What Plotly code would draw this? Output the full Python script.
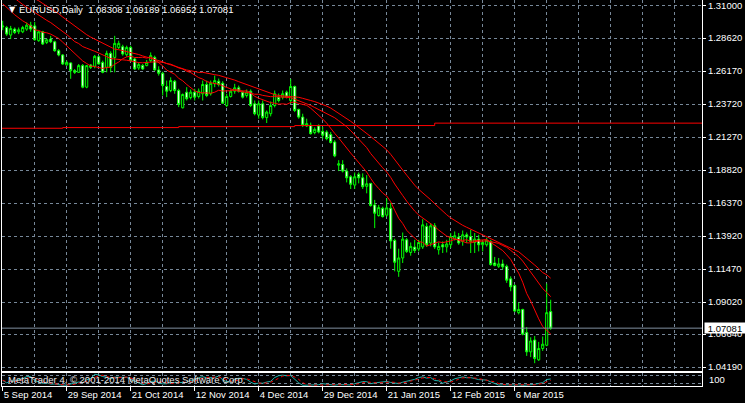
import plotly.graph_objects as go

# ------------------------------------------------------------------ data
# closes of the 29 daily bars before the first visible bar (needed by the moving averages)
prior_closes = [1.3440, 1.3410, 1.3400, 1.3390, 1.3425, 1.3410, 1.3380, 1.3375, 1.3360, 1.3415,
                1.3380, 1.3370, 1.3365, 1.3365, 1.3400, 1.3365, 1.3320, 1.3260, 1.3280, 1.3240,
                1.3195, 1.3170, 1.3180, 1.3185, 1.3130, 1.3130, 1.3130, 1.3150, 1.2944]

opens = [1.2945, 1.2940, 1.2884, 1.2928, 1.2908, 1.2908, 1.2928, 1.2957, 1.2952, 1.2842,
         1.2908, 1.2829, 1.2854, 1.2834, 1.2768, 1.2736, 1.2662, 1.2677, 1.2620, 1.2607,
         1.2657, 1.2497, 1.2662, 1.2652, 1.2723, 1.2681, 1.2644, 1.2748, 1.2718, 1.2792,
         1.2797, 1.2738, 1.2792, 1.2706, 1.2640, 1.2657, 1.2657, 1.2694, 1.2718, 1.2625,
         1.2600, 1.2502, 1.2472, 1.2541, 1.2472, 1.2344, 1.2460, 1.2420, 1.2460, 1.2428,
         1.2448, 1.2517, 1.2448, 1.2522, 1.2541, 1.2526, 1.2361, 1.2428, 1.2467, 1.2492,
         1.2460, 1.2435, 1.2467, 1.2374, 1.2290, 1.2374, 1.2271, 1.2300, 1.2361, 1.2423,
         1.2423, 1.2460, 1.2398, 1.2502, 1.2332, 1.2275, 1.2209, 1.2214, 1.2160, 1.2209,
         1.2169, 1.2164, 1.2145, 1.2090, 1.1918, 1.1923, 1.1874, 1.1832, 1.1770, 1.1850,
         1.1824, 1.1761, 1.1783, 1.1623, 1.1544, 1.1598, 1.1547, 1.1598, 1.1359, 1.1130,
         1.1229, 1.1364, 1.1270, 1.1310, 1.1296, 1.1311, 1.1463, 1.1340, 1.1468, 1.1290,
         1.1327, 1.1311, 1.1327, 1.1369, 1.1384, 1.1352, 1.1401, 1.1389, 1.1344, 1.1369,
         1.1327, 1.1327, 1.1352, 1.1192, 1.1167, 1.1185, 1.1167, 1.1074, 1.1024, 1.0823,
         1.0847, 1.0675, 1.0532, 1.0620, 1.0473, 1.0557, 1.0581, 1.08308]
highs = [1.2990, 1.2952, 1.2952, 1.2940, 1.2940, 1.2952, 1.2977, 1.2982, 1.2982, 1.2915,
         1.2915, 1.2858, 1.2878, 1.2842, 1.2780, 1.2743, 1.2694, 1.2681, 1.2632, 1.2669,
         1.2669, 1.2662, 1.2669, 1.2736, 1.2731, 1.2694, 1.2768, 1.2763, 1.2878, 1.2842,
         1.2812, 1.2805, 1.2805, 1.2716, 1.2681, 1.2669, 1.2699, 1.2755, 1.2731, 1.2652,
         1.2612, 1.2546, 1.2570, 1.2551, 1.2485, 1.2450, 1.2497, 1.2480, 1.2485, 1.2487,
         1.2546, 1.2546, 1.2546, 1.2583, 1.2561, 1.2541, 1.2448, 1.2480, 1.2522, 1.2509,
         1.2472, 1.2480, 1.2480, 1.2398, 1.2398, 1.2398, 1.2324, 1.2391, 1.2472, 1.2450,
         1.2472, 1.2472, 1.2559, 1.2509, 1.2337, 1.2300, 1.2263, 1.2234, 1.2199, 1.2221,
         1.2201, 1.2177, 1.2164, 1.2103, 1.1955, 1.1955, 1.1894, 1.1844, 1.1864, 1.1864,
         1.1857, 1.1844, 1.1785, 1.1660, 1.1623, 1.1610, 1.1672, 1.1638, 1.1372, 1.1298,
         1.1418, 1.1377, 1.1344, 1.1364, 1.1364, 1.1517, 1.1488, 1.1488, 1.1488, 1.1344,
         1.1352, 1.1364, 1.1414, 1.1426, 1.1414, 1.1433, 1.1418, 1.1438, 1.1414, 1.1401,
         1.1364, 1.1379, 1.1364, 1.1237, 1.1229, 1.1217, 1.1180, 1.1093, 1.1032, 1.0897,
         1.0852, 1.0716, 1.0640, 1.0650, 1.0606, 1.0646, 1.1039, 1.09189]
lows = [1.2920, 1.2878, 1.2854, 1.2891, 1.2891, 1.2898, 1.2915, 1.2908, 1.2842, 1.2834,
        1.2810, 1.2817, 1.2824, 1.2760, 1.2726, 1.2662, 1.2657, 1.2559, 1.2595, 1.2603,
        1.2489, 1.2489, 1.2632, 1.2637, 1.2664, 1.2600, 1.2607, 1.2607, 1.2607, 1.2780,
        1.2731, 1.2723, 1.2687, 1.2625, 1.2625, 1.2625, 1.2652, 1.2681, 1.2620, 1.2583,
        1.2435, 1.2423, 1.2460, 1.2448, 1.2349, 1.2339, 1.2398, 1.2406, 1.2398, 1.2413,
        1.2398, 1.2423, 1.2435, 1.2497, 1.2502, 1.2374, 1.2349, 1.2420, 1.2448, 1.2457,
        1.2413, 1.2420, 1.2349, 1.2288, 1.2263, 1.2258, 1.2231, 1.2280, 1.2347, 1.2384,
        1.2406, 1.2413, 1.2374, 1.2312, 1.2263, 1.2201, 1.2201, 1.2145, 1.2147, 1.2154,
        1.2115, 1.2103, 1.2079, 1.1977, 1.1874, 1.1864, 1.1790, 1.1741, 1.1741, 1.1783,
        1.1741, 1.1709, 1.1610, 1.1451, 1.1536, 1.1529, 1.1536, 1.1298, 1.1130, 1.1089,
        1.1192, 1.1266, 1.1246, 1.1266, 1.1278, 1.1296, 1.1311, 1.1315, 1.1296, 1.1254,
        1.1266, 1.1270, 1.1303, 1.1359, 1.1327, 1.1320, 1.1340, 1.1266, 1.1266, 1.1278,
        1.1278, 1.1313, 1.1172, 1.1167, 1.1155, 1.1143, 1.1044, 1.0982, 1.0827, 1.0810,
        1.0655, 1.0502, 1.0493, 1.0448, 1.0465, 1.0539, 1.0574, 1.06952]
closes = [1.2950, 1.2891, 1.2932, 1.2903, 1.2923, 1.2940, 1.2957, 1.2928, 1.2849, 1.2908,
          1.2817, 1.2849, 1.2834, 1.2768, 1.2736, 1.2669, 1.2681, 1.2620, 1.2607, 1.2657,
          1.2497, 1.2657, 1.2644, 1.2726, 1.2669, 1.2607, 1.2748, 1.2644, 1.2822, 1.2822,
          1.2743, 1.2792, 1.2694, 1.2632, 1.2664, 1.2632, 1.2681, 1.2731, 1.2625, 1.2600,
          1.2509, 1.2467, 1.2546, 1.2472, 1.2369, 1.2443, 1.2411, 1.2460, 1.2423, 1.2467,
          1.2517, 1.2435, 1.2526, 1.2546, 1.2517, 1.2378, 1.2428, 1.2467, 1.2492, 1.2467,
          1.2423, 1.2460, 1.2361, 1.2300, 1.2374, 1.2271, 1.2312, 1.2361, 1.2448, 1.2398,
          1.2448, 1.2423, 1.2502, 1.2324, 1.2275, 1.2214, 1.2226, 1.2152, 1.2184, 1.2164,
          1.2140, 1.2115, 1.2086, 1.1987, 1.1928, 1.1874, 1.1824, 1.1776, 1.1832, 1.1824,
          1.1758, 1.1780, 1.1618, 1.1561, 1.1603, 1.1536, 1.1601, 1.1355, 1.1197, 1.1229,
          1.1369, 1.1278, 1.1315, 1.1285, 1.1344, 1.1475, 1.1327, 1.1468, 1.1311, 1.1315,
          1.1311, 1.1333, 1.1389, 1.1394, 1.1340, 1.1401, 1.1384, 1.1352, 1.1369, 1.1327,
          1.1344, 1.1361, 1.1180, 1.1174, 1.1185, 1.1163, 1.1064, 1.1015, 1.0835, 1.0847,
          1.0663, 1.0532, 1.0613, 1.0483, 1.0557, 1.0589, 1.0823, 1.07081]

date_tick_bars = [0, 16, 32, 48, 64, 80, 96, 112, 128]
date_tick_labels = ["5 Sep 2014", "29 Sep 2014", "21 Oct 2014", "12 Nov 2014", "4 Dec 2014",
                    "29 Dec 2014", "21 Jan 2015", "12 Feb 2015", "6 Mar 2015"]
price_tick_labels = ["1.31000", "1.28620", "1.26170", "1.23720", "1.21270", "1.18820",
                     "1.16370", "1.13920", "1.11470", "1.09020", "1.06640", "1.04190"]

# red step level line (bar index where each level starts, last entry = end)
level_bars = [-1, 15, 44, 73, 108, 176]
level_values = [1.2192, 1.2197, 1.2204, 1.2212, 1.2230]

ma_periods = [10, 20, 30]
stoch_k, stoch_d, stoch_slow = 5, 3, 3

# ------------------------------------------------------------------ derived series
bars = list(range(len(closes)))
all_c = prior_closes + closes
npre = len(prior_closes)


def sma(n):
    return [sum(all_c[k - n + 1:k + 1]) / n for k in range(npre, len(all_c))]


num, den = [], []
for i in bars:
    lo = min(lows[max(0, i - stoch_k + 1):i + 1])
    hi = max(highs[max(0, i - stoch_k + 1):i + 1])
    num.append(closes[i] - lo)
    den.append(hi - lo)
stoch_main = []
for i in bars:
    a = sum(num[max(0, i - stoch_slow + 1):i + 1])
    b = sum(den[max(0, i - stoch_slow + 1):i + 1])
    stoch_main.append(100 * a / b if b else 50)
stoch_sig = []
for i in bars:
    win = stoch_main[max(0, i - stoch_d + 1):i + 1]
    stoch_sig.append(sum(win) / len(win))

# ------------------------------------------------------------------ geometry helpers
W, H = 745, 403
ML, MR, MT, MB = 2, 43, 0, 17
PW, PH = W - ML - MR, H - MT - MB


def pxx(px):
    return (px - ML) / PW


def pxy(py):
    return (PH + MT - py) / PH


GRID = "#778899"
FONT = "Liberation Sans, Arial, sans-serif"

fig = go.Figure()
fig.add_trace(go.Candlestick(
    x=bars, open=opens, high=highs, low=lows, close=closes,
    increasing=dict(line=dict(color="#00ff00", width=1), fillcolor="#000000"),
    decreasing=dict(line=dict(color="#00ff00", width=1), fillcolor="#ffffff"),
    whiskerwidth=0, xaxis="x", yaxis="y", hoverinfo="x+y"))

for n in ma_periods:
    fig.add_trace(go.Scatter(x=bars, y=sma(n), mode="lines",
                             line=dict(color="#ff0000", width=1), xaxis="x", yaxis="y"))

fig.add_trace(go.Scatter(x=level_bars, y=level_values + [level_values[-1]], mode="lines",
                         line=dict(color="#ff0000", width=1, shape="hv"), xaxis="x", yaxis="y"))

fig.add_trace(go.Scatter(x=bars, y=stoch_main, mode="lines",
                         line=dict(color="#20b2aa", width=1), xaxis="x2", yaxis="y2"))
fig.add_trace(go.Scatter(x=bars, y=stoch_sig, mode="lines",
                         line=dict(color="#ff0000", width=1, dash="dot"), xaxis="x2", yaxis="y2"))

xr = [-0.175, -0.175 + PW / 4.0]
main_bottom = 371
sub_top = 372.5

grid_bars = list(range(0, 176, 8))
price_vals = [float(t) for t in price_tick_labels]

fig.update_layout(
    width=W, height=H, margin=dict(l=ML, r=MR, t=MT, b=MB),
    paper_bgcolor="#000000", plot_bgcolor="#000000", showlegend=False,
    boxgap=0.25,
    font=dict(family=FONT, size=9.5, color="#ffffff"),
    xaxis=dict(domain=[0, 1], range=xr, anchor="y", showticklabels=False,
               tickmode="array", tickvals=grid_bars, ticks="",
               showgrid=True, gridcolor=GRID, griddash="3px,3px", gridwidth=1,
               zeroline=False, showline=True, mirror=True, linecolor="#ffffff", linewidth=1,
               rangeslider=dict(visible=False)),
    yaxis=dict(domain=[pxy(main_bottom), 1], range=[1.039001, 1.314411], side="right",
               tickmode="array", tickvals=price_vals, ticktext=price_tick_labels,
               ticks="outside", ticklen=3, tickcolor="#ffffff",
               tickfont=dict(family=FONT, size=9.5, color="#ffffff"),
               showgrid=True, gridcolor=GRID, griddash="3px,3px", gridwidth=1,
               zeroline=False, showline=True, mirror=True, linecolor="#ffffff", linewidth=1),
    xaxis2=dict(domain=[0, 1], range=xr, anchor="y2", matches="x",
                tickmode="array", tickvals=date_tick_bars, ticktext=date_tick_labels,
                ticks="outside", ticklen=4, tickcolor="#ffffff", ticklabelposition="outside right",
                tickfont=dict(family=FONT, size=9.5, color="#ffffff"),
                showgrid=False,
                minor=dict(tickmode="array", tickvals=grid_bars, showgrid=True, gridcolor=GRID,
                           griddash="3px,3px", ticks=""),
                zeroline=False, showline=True, mirror=True, linecolor="#ffffff", linewidth=1),
    yaxis2=dict(domain=[0, pxy(sub_top)], range=[-1, 104], side="right",
                tickmode="array", tickvals=[20, 80], showticklabels=False, ticks="",
                showgrid=True, gridcolor=GRID, griddash="3px,3px",
                zeroline=False, showline=True, mirror=True, linecolor="#ffffff", linewidth=1),
)

last = len(closes) - 1
fig.add_shape(type="line", xref="paper", yref="y", x0=0, x1=1,
              y0=closes[last], y1=closes[last], line=dict(color="#8090a0", width=1), layer="above")

title = "EURUSD,Daily\u00a0\u00a0{:.5f} {:.5f} {:.5f} {:.5f}".format(
    opens[last], highs[last], lows[last], closes[last])
fig.add_annotation(xref="paper", yref="paper", x=pxx(7), y=pxy(10), xanchor="left", yanchor="middle",
                   text="\u25bc", showarrow=False,
                   font=dict(family="DejaVu Sans", size=8, color="#ffffff"))
fig.add_annotation(xref="paper", yref="paper", x=pxx(17), y=pxy(10), xanchor="left", yanchor="middle",
                   text=title, showarrow=False, font=dict(family=FONT, size=9.5, color="#ffffff"))
fig.add_annotation(xref="paper", yref="y", x=pxx(704), y=closes[last], xanchor="left", yanchor="middle",
                   text="{:.5f}".format(closes[last]), showarrow=False, bgcolor="#ffffff",
                   width=40, height=10, borderpad=0, align="center",
                   font=dict(family=FONT, size=9.5, color="#000000"))
fig.add_annotation(xref="paper", yref="paper", x=pxx(6), y=pxy(379), xanchor="left", yanchor="middle",
                   text="MetaTrader 4, \u00a9 2001-2014 MetaQuotes Software Corp.", showarrow=False,
                   font=dict(family=FONT, size=9.5, color="#e8e8e8"))
fig.add_annotation(xref="paper", yref="paper", x=pxx(707), y=pxy(379), xanchor="left", yanchor="middle",
                   text="100", showarrow=False, font=dict(family=FONT, size=9.5, color="#ffffff"))

fig.write_html("out.html", config={"displayModeBar": False},
               post_script="document.body.style.margin='0';document.body.style.overflow='hidden';")
